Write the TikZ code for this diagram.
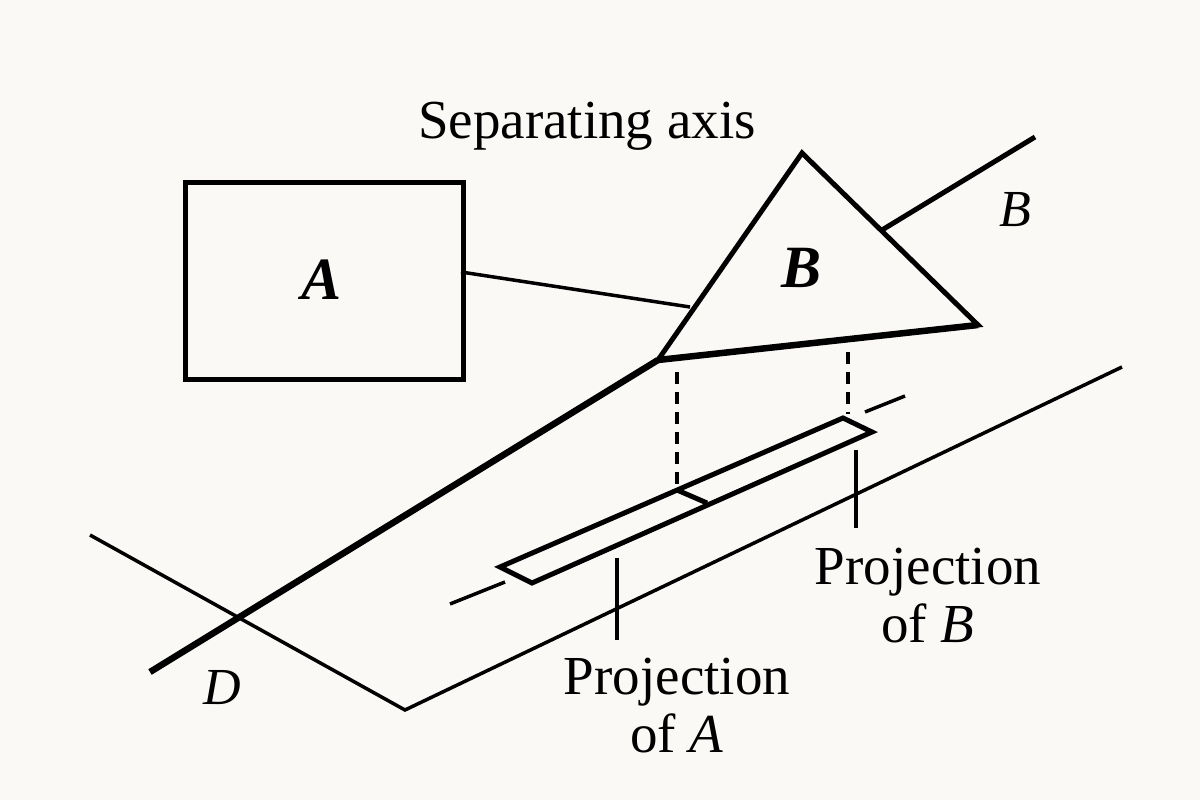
\documentclass[tikz,border=0pt]{standalone}
\usepackage{fontspec}
\setmainfont{Liberation Serif}
\begin{document}
\begin{tikzpicture}[x=1pt,y=-1pt,line join=miter,
  thick/.style={line width=6.5pt},
  med/.style={line width=5pt},
  thin/.style={line width=3.5pt},
  lbl/.style={font=\fontsize{55}{58}\selectfont, align=center, inner sep=0pt},
  big/.style={font=\fontsize{60}{66}\selectfont\bfseries\itshape, inner sep=0pt},
  it/.style={font=\fontsize{52}{56}\selectfont\itshape, inner sep=0pt}]
\fill[fill={rgb,255:red,251;green,249;blue,246}] (0,0) rectangle (1200,800);
\useasboundingbox (0,0) rectangle (1200,800);
\coordinate (t1) at (802,153); \coordinate (t2) at (978,325); \coordinate (t3) at (658,360);
\coordinate (s1) at (500,567); \coordinate (s2) at (532,583); \coordinate (s3) at (872,432); \coordinate (s4) at (843,418);
\coordinate (d1) at (677,490); \coordinate (d2) at (707,503);
\node[draw, med, minimum width=278pt, minimum height=197pt, anchor=north west] (boxA) at (183,180) {};
\node[big] (la) at (322,280) {A};
\coordinate (c1) at (461,272); \coordinate (c2) at (690,307);
\draw[thin] (c1) -- (c2);
\draw[med] (t1) -- (t2) -- (t3) -- cycle;
\draw[thick] (t2) -- (t3);
\node[big] (lb) at (802,268) {B};
\coordinate (u1) at (882,230); \coordinate (u2) at (1035,137);
\draw[med] (u1) -- (u2);
\node[it] (lb2) at (1015,210) {B};
\coordinate (l1) at (150,672);
\draw[thick] (l1) -- (t3);
\coordinate (v1) at (90,535); \coordinate (v2) at (405,710); \coordinate (v3) at (1122,367);
\draw[thin] (v1) -- (v2) -- (v3);
\node[it] (ld) at (222,688) {D};
\coordinate (a1) at (450,604); \coordinate (a2) at (505,582);
\coordinate (a3) at (865,412); \coordinate (a4) at (905,396);
\draw[thin] (a1) -- (a2); \draw[thin] (a3) -- (a4);
\draw[med] (s1) -- (s2) -- (s3) -- (s4) -- cycle;
\draw[med] (d1) -- (d2);
\coordinate (p1) at (677,372); \coordinate (p2) at (848,352); \coordinate (p3) at (848,414);
\draw[thin, dash pattern=on 12pt off 8pt] (p1) -- (d1);
\draw[thin, dash pattern=on 12pt off 8pt] (p2) -- (p3);
\coordinate (k1) at (617,558); \coordinate (k2) at (617,640);
\coordinate (k3) at (856,450); \coordinate (k4) at (856,528);
\draw[thin] (k1) -- (k2); \draw[thin] (k3) -- (k4);
\node[lbl] (sep) at (587,126) {Separating axis};
\node[lbl] (pb) at (928,596) {Projection\\of \textit{B}};
\node[lbl] (pa) at (677,706) {Projection\\of \textit{A}};
\end{tikzpicture}
\end{document}
